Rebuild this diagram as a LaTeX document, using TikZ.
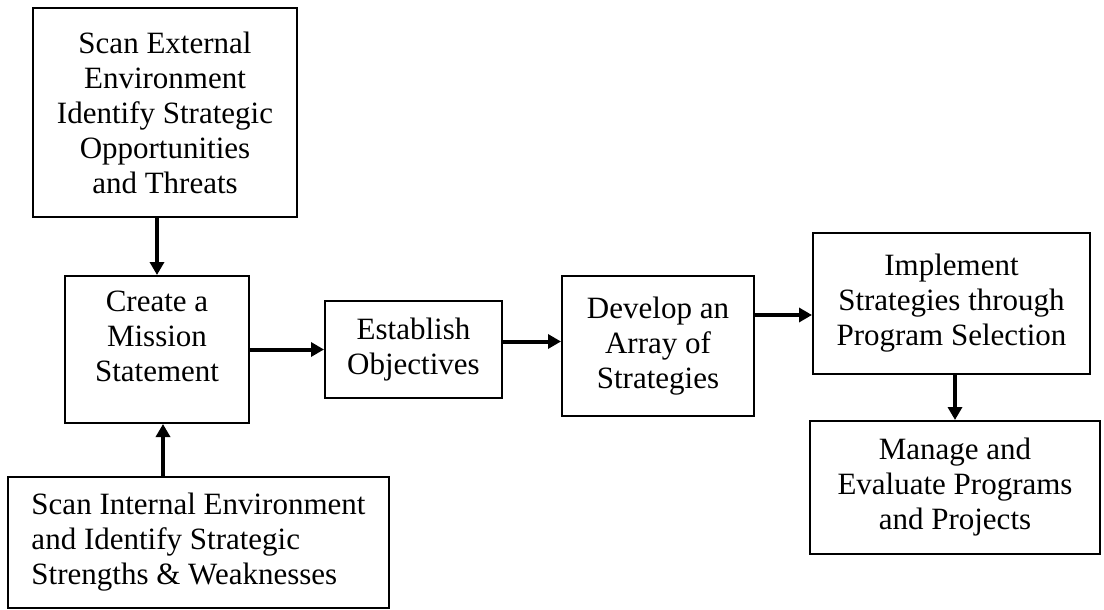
\documentclass[tikz,border=0pt]{standalone}
\usepackage{fontspec}
\setmainfont{Liberation Serif}
\usetikzlibrary{arrows.meta}
\begin{document}
\begin{tikzpicture}[x=0.5pt,y=-0.5pt,
  box/.style={draw=black,line width=1pt,inner sep=0pt,align=center,
    font=\fontsize{15.5pt}{17.5pt}\selectfont},
  arr/.style={line width=2pt,-{Triangle[length=6.5pt,width=7pt]}}]
\useasboundingbox[fill=white] (0,0) rectangle (1104,610);
\node[box,minimum width=132pt,minimum height=104.5pt] (ext) at (165,112.5)
  {Scan External\\Environment\\Identify Strategic\\Opportunities\\and Threats};
\node[box,minimum width=92pt,minimum height=73.5pt] (mis) at (157,349.5)
  {Create a\\Mission\\Statement\\[-4pt]};
\node[box,align=left,minimum width=190.5pt,minimum height=65.5pt] (int) at (198.5,542.5)
  {Scan Internal Environment\\and Identify Strategic\\Strengths \& Weaknesses};
\node[box,minimum width=88.5pt,minimum height=48.5pt] (est) at (413.5,349.5)
  {Establish\\Objectives};
\node[box,minimum width=96pt,minimum height=70pt] (dev) at (658,346)
  {Develop an\\Array of\\Strategies};
\node[box,minimum width=138.5pt,minimum height=70.5pt] (imp) at (951.5,303.5)
  {Implement\\Strategies through\\Program Selection};
\node[box,minimum width=145pt,minimum height=66.5pt] (man) at (955,487.5)
  {Manage and\\Evaluate Programs\\and Projects};
\coordinate (iA) at ([xshift=3pt]mis.south);
\coordinate (dA) at ([yshift=15.5pt]dev.east);
\draw[arr] (ext.south -| mis.north) -- (mis.north);
\draw[arr] (iA |- int.north) -- (iA);
\draw[arr] (mis.east) -- (est.west);
\draw[arr] ([yshift=4pt]est.east) -- ([yshift=4pt]est.east -| dev.west);
\draw[arr] (dA) -- (dA -| imp.west);
\draw[arr] (imp.south -| man.north) -- (man.north);
\end{tikzpicture}
\end{document}
